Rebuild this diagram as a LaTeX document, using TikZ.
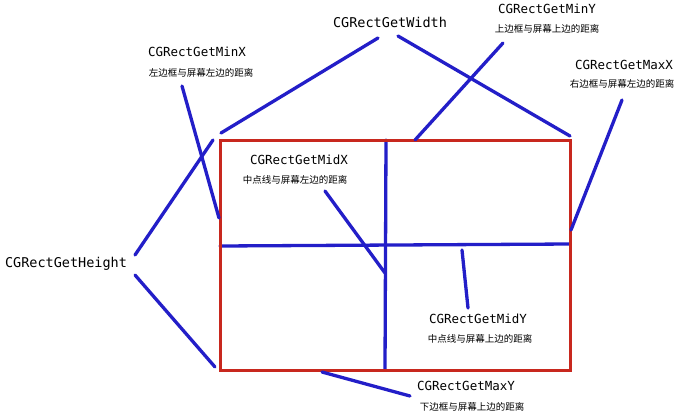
\documentclass[tikz,border=0pt]{standalone}
\usepackage{fontspec}
\setmonofont{DejaVu Sans Mono}
\newfontfamily\cjk{Noto Sans CJK SC}
\begin{document}
\begin{tikzpicture}[x=1pt,y=-1pt]
\definecolor{bl}{RGB}{35,30,200}
\definecolor{rd}{RGB}{200,40,30}
\tikzset{
 bline/.style={bl,line width=3.3pt,line cap=round},
 lab/.style={font=\ttfamily\fontsize{12.5}{14}\selectfont,inner sep=0pt},
 bigl/.style={font=\ttfamily\fontsize{13.5}{15}\selectfont,inner sep=0pt},
 zh/.style={font=\cjk\fontsize{9.5}{11}\selectfont,inner sep=0pt}}
\useasboundingbox (0,0) rectangle (690,418);
\fill[white] (0,0) rectangle (690,418);
\coordinate (tl) at (220,140); \coordinate (br) at (570,370);
\draw[bline] (220,246) -- (570,244);
\draw[bline] (386,140) -- (385,370);
\draw[rd,line width=3pt] (tl) rectangle (br);
\node[bigl] (w) at (390,22) {CGRectGetWidth};
\node[lab] (minx) at (197,52) {CGRectGetMinX};
\node[zh] (minxz) at (201,73) {左边框与屏幕左边的距离};
\node[lab] (miny) at (547,9) {CGRectGetMinY};
\node[zh] (minyz) at (547,29) {上边框与屏幕上边的距离};
\node[lab] (maxx) at (624,65) {CGRectGetMaxX};
\node[zh] (maxxz) at (622,84) {右边框与屏幕左边的距离};
\node[bigl] (h) at (66,264) {CGRectGetHeight};
\node[lab] (midx) at (299,160) {CGRectGetMidX};
\node[zh] (midxz) at (295,180) {中点线与屏幕左边的距离};
\node[lab] (midy) at (478,319) {CGRectGetMidY};
\node[zh] (midyz) at (480,339) {中点线与屏幕上边的距离};
\node[lab] (maxy) at (466,386) {CGRectGetMaxY};
\node[zh] (maxyz) at (472,407) {下边框与屏幕上边的距离};
\draw[bline] (378,38) -- (221,133);
\draw[bline] (398,36) -- (570,136);
\draw[bline] (182,86) -- (219,218);
\draw[bline] (503,43) -- (415,140);
\draw[bline] (622,100) -- (571,230);
\draw[bline] (135,255) -- (213,140);
\draw[bline] (135,275) -- (215,367);
\draw[bline] (325,191) -- (385,273);
\draw[bline] (462,250) -- (468,308);
\draw[bline] (322,372) -- (410,396);
\end{tikzpicture}
\end{document}
